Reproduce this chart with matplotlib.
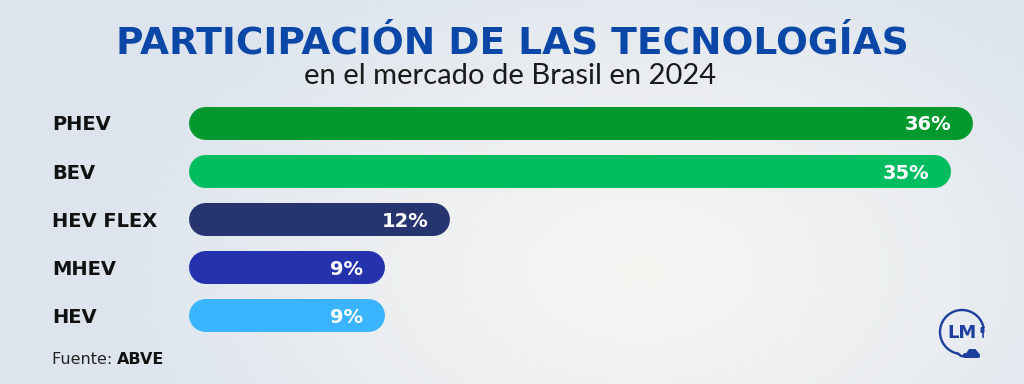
import numpy as np
import matplotlib
matplotlib.use("Agg")
import matplotlib.pyplot as plt
from matplotlib.patches import FancyBboxPatch, Arc, Polygon

categories = ["PHEV", "BEV", "HEV FLEX", "MHEV", "HEV"]
values = [36, 35, 12, 9, 9]
labels = ["36%", "35%", "12%", "9%", "9%"]
colors = ["#03992f", "#02bd5f", "#263470", "#2433ad", "#3ab5fd"]
title = "PARTICIPACIÓN DE LAS TECNOLOGÍAS"
subtitle = "en el mercado de Brasil en 2024"
source_label = "Fuente: "
source_name = "ABVE"
logo_text = "LM"

W, H = 1024, 384
fig = plt.figure(figsize=(W / 100, H / 100), dpi=100)

# background radial gradient
bg = fig.add_axes([0, 0, 1, 1])
yy, xx = np.mgrid[0:H, 0:W]
d = np.sqrt(((xx - 640) / 520.0) ** 2 + ((yy - 270) / 330.0) ** 2)
d = np.clip(d, 0, 1)
c0 = np.array([0.965, 0.962, 0.952])
c1 = np.array([0.870, 0.898, 0.933])
img = c0[None, None, :] * (1 - d[..., None] ** 1.3) + c1[None, None, :] * (d[..., None] ** 1.3)
bg.imshow(img, extent=[0, W, H, 0], aspect="auto", zorder=0)
bg.set_xlim(0, W)
bg.set_ylim(H, 0)
bg.axis("off")

# bar axes
px_per_x = 21.78
px_per_y = 48.1
left_px = 188
xmax = 38
width_px = xmax * px_per_x
top_px = 123 - px_per_y / 2
height_px = 5 * px_per_y
ax = fig.add_axes([left_px / W, (H - top_px - height_px) / H, width_px / W, height_px / H])
ax.set_xlim(0, xmax)
ax.set_ylim(4.5, -0.5)
ax.axis("off")

bar_px = 33
r_x = (bar_px / 2) / px_per_x
lw_pt = bar_px * 72 / 100
for i, (v, c, lab) in enumerate(zip(values, colors, labels)):
    ax.plot([r_x, v - r_x], [i, i], color=c, lw=lw_pt, solid_capstyle="round",
            zorder=2)
    ax.text(v - 21 / px_per_x, i, lab, ha="right", va="center_baseline",
            color="white", fontsize=14, fontweight="bold", family="DejaVu Sans", zorder=3)
    ax.text(-136 / px_per_x, i, categories[i], ha="left", va="center_baseline",
            color="#111111", fontsize=14, fontweight="bold", family="DejaVu Sans")

# titles
fig.text(512 / W, 1 - 44 / H, title, ha="center", va="center",
         fontsize=27, fontweight="heavy", color="#0b47a6", family="DejaVu Sans")
fig.text(510 / W, 1 - 76 / H, subtitle, ha="center", va="center",
         fontsize=21, fontweight="normal", color="#1a1a1a", family=["Lato", "DejaVu Sans"])

# source
t = fig.text(52 / W, 1 - 360 / H, source_label, ha="left", va="center",
             fontsize=11.5, color="#222222", family="DejaVu Sans")
fig.canvas.draw()
bb = t.get_window_extent()
fig.text(bb.x1 / W, 1 - 360 / H, source_name, ha="left", va="center",
         fontsize=11.5, color="#111111", fontweight="bold", family="DejaVu Sans")

# logo
logo_c = "#1c3f9e"
bg.add_patch(Arc((962, 332), 44, 44, theta1=100, theta2=350, color=logo_c, lw=1.7, zorder=3))
bg.text(962, 333.5, logo_text, ha="center", va="center", fontsize=13, fontweight="bold",
        color=logo_c, zorder=4)
# cable to car
bg.plot([958.2, 961, 965], [353.7, 356, 356.5], color=logo_c, lw=1.7, zorder=3)
# car body
bg.add_patch(FancyBboxPatch((963, 353), 17, 5, boxstyle="round,pad=0,rounding_size=2",
                            fc=logo_c, ec="none", zorder=4))
bg.add_patch(Polygon([[966, 353.5], [969, 349], [975.5, 349], [979, 353.5]],
                     closed=True, fc=logo_c, ec="none", zorder=4))
# plug
bg.add_patch(FancyBboxPatch((980.5, 327), 4, 6, boxstyle="round,pad=0,rounding_size=1",
                            fc=logo_c, ec="none", zorder=4))
bg.plot([982.5, 982.5], [333, 337], color=logo_c, lw=1.2, zorder=4)

fig.savefig("out.png", dpi=100)
